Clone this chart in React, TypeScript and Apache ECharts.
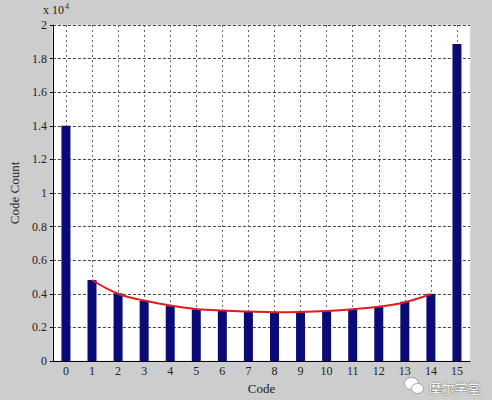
import React, { useEffect, useRef } from "react";
import * as echarts from "echarts";

const categories = ["0","1","2","3","4","5","6","7","8","9","10","11","12","13","14","15"];
const codeCounts = [14000, 4820, 4030, 3590, 3270, 3080, 2980, 2920, 2880, 2900, 2980, 3080, 3230, 3530, 4000, 18870];
const fitCurve: (number | string)[] = ["-", 4820, 4000, 3600, 3300, 3100, 3000, 2940, 2900, 2920, 2980, 3080, 3230, 3500, 3980, "-"];
const yTicks = [0, 0.2, 0.4, 0.6, 0.8, 1, 1.2, 1.4, 1.6, 1.8, 2];

const SERIF = "'Liberation Serif', 'DejaVu Serif', serif";

export default function App() {
  const ref = useRef<HTMLDivElement>(null);
  useEffect(() => {
    if (!ref.current) return;
    const chart = echarts.init(ref.current, null, { renderer: "svg" });
    chart.setOption({
      animation: false,
      backgroundColor: "#cdcdcd",
      textStyle: { fontFamily: SERIF },
      grid: {
        left: 43, top: 25, right: 22, bottom: 39,
        show: true, backgroundColor: "#ffffff", borderColor: "#e6e6e6", borderWidth: 1,
      },
      xAxis: {
        type: "category",
        data: categories,
        boundaryGap: true,
        name: "Code",
        nameLocation: "middle",
        nameGap: 20,
        nameTextStyle: { fontFamily: SERIF, fontSize: 13, color: "#222" },
        axisLine: { lineStyle: { color: "#000", width: 1 } },
        axisTick: { show: true, alignWithLabel: true, inside: true, length: 3, lineStyle: { color: "#000" } },
        axisLabel: { fontFamily: SERIF, fontSize: 12, color: "#222", margin: 4 },
        splitLine: { show: true, alignWithLabel: true, lineStyle: { color: "#666", type: [2, 3], width: 1 } },
      },
      yAxis: {
        type: "value",
        min: 0,
        max: 20000,
        interval: 2000,
        name: "Code Count",
        nameLocation: "middle",
        nameGap: 30,
        nameRotate: 90,
        nameTextStyle: { fontFamily: SERIF, fontSize: 13, color: "#222" },
        axisLine: { show: true, lineStyle: { color: "#000", width: 1 } },
        axisTick: { show: true, inside: false, length: 3, lineStyle: { color: "#000" } },
        axisLabel: {
          fontFamily: SERIF, fontSize: 12, color: "#222", margin: 6,
          formatter: (v: number) => {
            const t = yTicks.find((x) => Math.abs(x * 10000 - v) < 1);
            return t === undefined ? "" : String(t);
          },
        },
        splitLine: { show: true, lineStyle: { color: "#444", type: [3, 2], width: 1 } },
      },
      series: [
        {
          type: "bar",
          data: codeCounts,
          barWidth: 9,
          itemStyle: { color: "#0b0b78" },
        },
        {
          type: "line",
          data: fitCurve,
          smooth: 0.4,
          showSymbol: false,
          lineStyle: { color: "#e01c1c", width: 2 },
          z: 5,
        },
      ],
      graphic: [
        {
          type: "text",
          left: 43,
          top: 2,
          style: {
            text: "{b|x 10}{s|4}",
            rich: {
              b: { fontFamily: SERIF, fontSize: 12, fill: "#222", verticalAlign: "bottom", lineHeight: 14 },
              s: { fontFamily: SERIF, fontSize: 8, fill: "#222", verticalAlign: "top", lineHeight: 14, padding: [0, 0, 7, 1] },
            },
          },
        },
        {
          type: "group",
          left: 404,
          top: 377,
          children: [
            { type: "ellipse", shape: { cx: 7, cy: 6, rx: 7, ry: 6 }, style: { fill: "#ffffff", stroke: "#9a9a9a", lineWidth: 1 } },
            { type: "ellipse", shape: { cx: 13, cy: 11, rx: 6, ry: 5 }, style: { fill: "#ffffff", stroke: "#9a9a9a", lineWidth: 1 } },
            {
              type: "text",
              x: 24,
              y: 3,
              style: {
                text: "摩尔学堂",
                fontFamily: "'Noto Sans CJK SC', sans-serif",
                fontSize: 13,
                fill: "#ffffff",
                stroke: "#8a8a8a",
                lineWidth: 1,
              },
            },
          ],
        },
      ],
    });
    return () => chart.dispose();
  }, []);
  return <div ref={ref} style={{ width: 492, height: 400, position: "absolute", left: 0, top: 0 }} />;
}
